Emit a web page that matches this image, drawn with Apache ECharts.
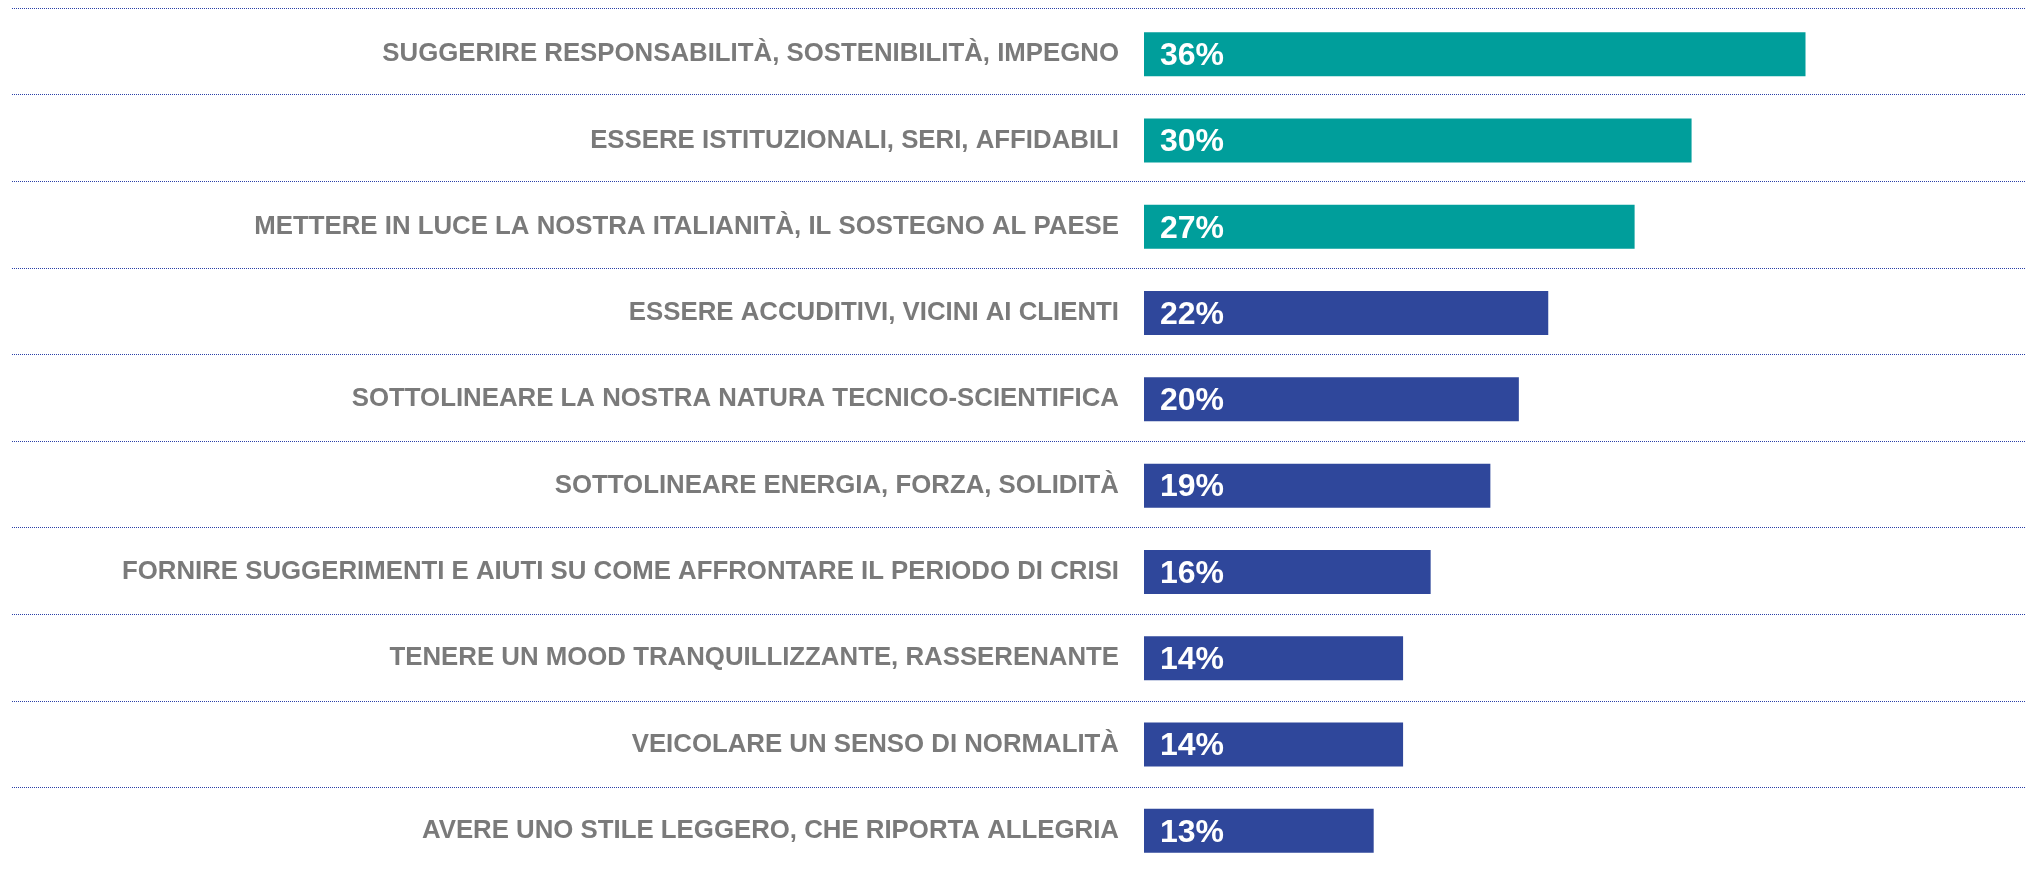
<!DOCTYPE html>
<html>
<head>
<meta charset="utf-8">
<script src="https://cdn.jsdelivr.net/npm/echarts@6/dist/echarts.min.js"></script>
<style>
  html, body { margin: 0; padding: 0; background: #fff; }
  #chart { width: 2026px; height: 874px; }
</style>
</head>
<body>
<div id="chart"></div>
<script>
// categorie (dall'alto verso il basso)
const categories = [
  'SUGGERIRE RESPONSABILITÀ, SOSTENIBILITÀ, IMPEGNO',
  'ESSERE ISTITUZIONALI, SERI, AFFIDABILI',
  'METTERE IN LUCE LA NOSTRA ITALIANITÀ, IL SOSTEGNO AL PAESE',
  'ESSERE ACCUDITIVI, VICINI AI CLIENTI',
  'SOTTOLINEARE LA NOSTRA NATURA TECNICO-SCIENTIFICA',
  'SOTTOLINEARE ENERGIA, FORZA, SOLIDITÀ',
  'FORNIRE SUGGERIMENTI E AIUTI SU COME AFFRONTARE IL PERIODO DI CRISI',
  'TENERE UN MOOD TRANQUILLIZZANTE, RASSERENANTE',
  'VEICOLARE UN SENSO DI NORMALITÀ',
  'AVERE UNO STILE LEGGERO, CHE RIPORTA ALLEGRIA'
];
// valori stimati dalla lunghezza delle barre
const values = [36, 29.8, 26.7, 22, 20.4, 18.85, 15.6, 14.1, 14.1, 12.5];
// prime tre voci evidenziate
const highlighted = [true, true, true, false, false, false, false, false, false, false];

const TEAL = '#009e9b';
const BLUE = '#2f479b';

const chart = echarts.init(document.getElementById('chart'));

const seriesData = values.map((v, i) => ({
  value: v,
  itemStyle: { color: highlighted[i] ? TEAL : BLUE }
}));

chart.setOption({
  animation: false,
  grid: [
    { left: 1144, right: 0, top: 11, height: 867, containLabel: false },
    { left: 12, right: 0, top: 8, height: 870, containLabel: false }
  ],
  xAxis: [
    { type: 'value', gridIndex: 0, min: 0, max: 48, show: false },
    { type: 'value', gridIndex: 1, min: 0, max: 1, show: false }
  ],
  yAxis: [
    {
      type: 'category',
      gridIndex: 0,
      inverse: true,
      data: categories,
      axisLine: { show: false },
      axisTick: { show: false },
      splitLine: { show: false },
      axisLabel: {
        margin: 25,
        color: '#7a7a7a',
        fontFamily: 'Liberation Sans, Arial, sans-serif',
        fontWeight: 'bold',
        fontSize: 25.8,
        interval: 0
      }
    },
    {
      // solo per le linee tratteggiate di separazione
      type: 'category',
      gridIndex: 1,
      inverse: true,
      data: categories,
      axisLine: { show: false },
      axisTick: { show: false },
      axisLabel: { show: false },
      splitLine: {
        show: true,
        interval: 0,
        lineStyle: { color: '#2b40a8', type: [1, 1], width: 1 }
      }
    }
  ],
  series: [
    {
      type: 'bar',
      xAxisIndex: 0,
      yAxisIndex: 0,
      data: seriesData,
      barWidth: 44,
      label: {
        show: true,
        position: 'insideLeft',
        distance: 16,
        offset: [0, 2],
        color: '#fff',
        fontFamily: 'Liberation Sans, Arial, sans-serif',
        fontWeight: 'bold',
        fontSize: 32,
        formatter: (p) => Math.round(p.value) + '%'
      }
    }
  ]
});
</script>
</body>
</html>
